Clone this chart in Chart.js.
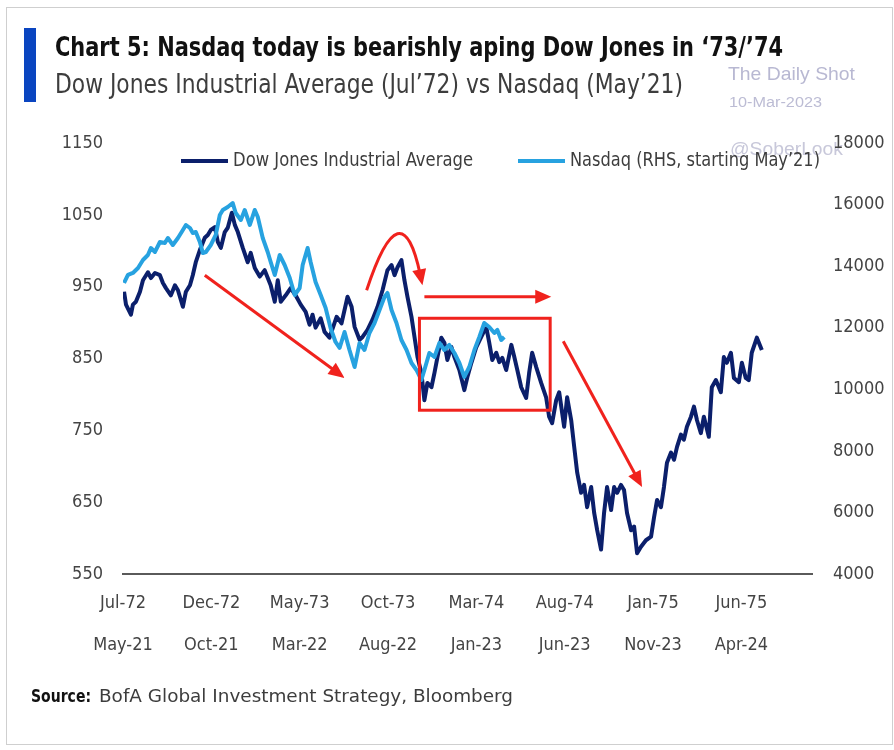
<!DOCTYPE html>
<html>
<head>
<meta charset="utf-8">
<script src="https://cdn.jsdelivr.net/npm/chart.js@4.4.1/dist/chart.umd.min.js"></script>
<style>
  html, body { margin: 0; padding: 0; background: #ffffff; }
  #c { display: block; }
</style>
</head>
<body>
<canvas id="c" width="894" height="750"></canvas>
<script>
// ---------------- DATA ----------------
// x = months elapsed since Jul-72 (Dow) / May-21 (Nasdaq)
const dowMonths = [0.06,0.17,0.45,0.56,0.73,0.96,1.13,1.41,1.58,1.81,
  2.09,2.26,2.43,2.71,2.94,3.11,3.39,3.56,3.79,3.95,
  4.12,4.35,4.63,4.80,4.97,5.20,5.37,5.54,5.76,5.93,
  6.16,6.33,6.50,6.78,7.06,7.23,7.46,7.74,8.02,8.36,
  8.59,8.76,8.93,9.21,9.49,9.77,10.06,10.34,10.56,10.73,
  10.90,11.19,11.41,11.69,12.09,12.37,12.71,12.94,13.11,13.39,
  13.56,13.84,14.12,14.41,14.69,14.97,15.20,15.37,15.54,15.76,
  15.93,16.10,16.33,16.50,16.67,16.89,17.06,17.23,17.46,17.63,
  17.80,18.02,18.19,18.36,18.59,18.76,19.04,19.32,19.49,19.72,
  20.00,20.28,20.56,20.73,20.90,21.13,21.30,21.47,21.69,21.98,
  22.15,22.32,22.54,22.82,22.99,23.16,23.39,23.67,23.95,24.12,
  24.29,24.52,24.69,24.86,24.97,25.14,25.37,25.54,25.71,25.93,
  26.10,26.27,26.50,26.67,26.84,27.06,27.23,27.40,27.63,27.80,
  27.97,28.19,28.36,28.53,28.76,28.93,29.10,29.32,29.60,29.89,
  30.06,30.23,30.45,30.62,30.79,31.02,31.19,31.36,31.58,31.75,
  31.92,32.15,32.32,32.49,32.71,32.88,33.16,33.33,33.56,33.84,
  34.01,34.18,34.41,34.58,34.86,35.03,35.25,35.42,35.59,35.88,
  36.16];
const dowValues = [943,925,911,925,929,943,959,970,962,969,
  966,955,948,938,952,945,922,943,952,966,
  984,1001,1018,1022,1029,1033,1012,1004,1026,1032,
  1053,1036,1026,1004,984,997,976,964,973,952,
  929,959,929,938,948,938,925,915,897,911,
  893,906,887,879,908,899,936,922,894,876,
  880,890,904,922,945,973,980,966,977,987,
  959,936,908,880,852,830,792,816,810,830,
  852,879,872,848,866,852,834,806,824,844,
  866,880,894,872,848,858,845,851,834,869,
  852,834,810,795,830,858,838,816,796,769,
  760,792,803,774,755,796,764,727,691,663,
  674,643,671,635,611,584,635,671,639,671,
  663,674,667,635,611,616,579,588,597,602,
  629,653,643,671,705,719,709,727,744,737,
  755,769,783,764,746,769,741,810,820,803,
  852,844,858,823,817,844,823,820,858,879,
  862];
const nasdaqMonths = [0.06,0.28,0.56,0.85,1.13,1.41,1.58,1.81,2.09,2.37,
  2.54,2.82,3.11,3.39,3.56,3.79,3.95,4.12,4.35,4.52,
  4.69,4.97,5.25,5.48,5.65,5.93,6.21,6.38,6.67,6.89,
  7.18,7.46,7.63,7.91,8.19,8.36,8.59,8.87,9.15,9.44,
  9.72,10.00,10.17,10.45,10.62,10.90,11.19,11.47,11.75,12.03,
  12.26,12.54,12.82,13.11,13.39,13.67,13.95,14.24,14.52,14.80,
  14.97,15.20,15.48,15.76,16.05,16.33,16.61,16.89,17.06,17.34,
  17.63,17.91,18.19,18.47,18.76,19.04,19.32,19.60,19.89,20.17,
  20.45,20.73,21.02,21.19,21.41,21.58];
const nasdaqValues = [13453,13713,13778,13940,14200,14362,14590,14460,14784,14752,
  14914,14687,14914,15174,15337,15239,15077,15109,14784,14427,
  14460,14687,15012,15661,15824,15921,16051,15726,15499,15824,
  15337,15824,15596,14914,14460,14135,13713,14362,14037,13615,
  13063,13290,14037,14590,14135,13485,13063,12641,11991,11536,
  11342,11861,11277,10724,11504,11277,11829,12154,12576,12998,
  13128,12576,12154,11601,11277,10854,10627,10302,10627,11179,
  11049,11504,11277,11439,11179,10854,10400,10724,11277,11699,
  12154,12024,11829,11926,11601,11699];

const dowTickLabels = ['Jul-72','Dec-72','May-73','Oct-73','Mar-74','Aug-74','Jan-75','Jun-75'];
const nasdaqTickLabels = ['May-21','Oct-21','Mar-22','Aug-22','Jan-23','Jun-23','Nov-23','Apr-24'];
const seriesNames = ['Dow Jones Industrial Average', 'Nasdaq (RHS, starting May\u201921)'];

// red annotations, in data units [month, Dow value]
const straightArrows = [
  [[4.63, 966], [12.54, 823]],
  [[17.06, 936], [24.24, 936]],
  [[24.92, 874], [29.38, 671]]
];
const curvedArrow = [[13.79, 945], [15.76, 1092], [16.95, 952]];
const boxRange = [[16.78, 906], [24.18, 778]];

// ---------------- STYLE ----------------
const NAVY = '#0b1f6b';
const LIGHT = '#27a2e0';
const RED = '#f0221d';
const CF = "'DejaVu Sans Condensed','Liberation Sans Narrow','DejaVu Sans',sans-serif";
const AF = "'Liberation Sans',Arial,sans-serif";

function txt(ctx, s, x, y, font, color, w) {
  ctx.save();
  ctx.font = font; ctx.fillStyle = color;
  ctx.textBaseline = 'middle'; ctx.textAlign = 'left';
  const mw = ctx.measureText(s).width;
  ctx.translate(x, y);
  if (w) ctx.scale(w / mw, 1);
  ctx.fillText(s, 0, 0);
  ctx.restore();
}

function arrowHead(ctx, x0, y0, x1, y1, len, half) {
  const a = Math.atan2(y1 - y0, x1 - x0);
  ctx.beginPath();
  ctx.moveTo(x1, y1);
  ctx.lineTo(x1 - len * Math.cos(a) + half * Math.sin(a), y1 - len * Math.sin(a) - half * Math.cos(a));
  ctx.lineTo(x1 - len * Math.cos(a) - half * Math.sin(a), y1 - len * Math.sin(a) + half * Math.cos(a));
  ctx.closePath();
  ctx.fill();
}

const decor = {
  id: 'decor',
  beforeDraw(chart) {
    const ctx = chart.ctx;
    ctx.save();
    ctx.fillStyle = '#fff';
    ctx.fillRect(0, 0, chart.width, chart.height);
    // frame
    ctx.strokeStyle = '#cfcfcf'; ctx.lineWidth = 1;
    ctx.strokeRect(6.5, 7.5, 886, 737);
    // blue bar
    ctx.fillStyle = '#0a45c0';
    ctx.fillRect(24, 28, 12, 74);
    ctx.restore();
    txt(ctx, 'Chart 5: Nasdaq today is bearishly aping Dow Jones in \u201873/\u201974', 55, 49, "bold 26px " + CF, '#111111', 728);
    txt(ctx, 'Dow Jones Industrial Average (Jul\u201972) vs Nasdaq (May\u201921)', 55, 86, "26px " + CF, '#3d3d3d', 628);
    // watermark
    txt(ctx, 'The Daily Shot', 728, 75, "19px " + AF, '#b8b8d2', 127);
    txt(ctx, '10-Mar-2023', 729, 103, "14px " + AF, '#bcbcd4', 93);
    txt(ctx, '@SoberLook', 730, 150, "18px " + AF, '#c8c8da', 113);
    // source
    txt(ctx, 'Source:', 31, 697, "bold 18px " + CF, '#111111', 60);
    txt(ctx, 'BofA Global Investment Strategy, Bloomberg', 99, 697, "18px " + CF, '#3d3d3d', 414);
  },
  afterDatasetsDraw(chart) {
    const ctx = chart.ctx;
    const xs = chart.scales.x, ys = chart.scales.y;
    const P = (p) => [xs.getPixelForValue(p[0]), ys.getPixelForValue(p[1])];
    ctx.save();
    ctx.strokeStyle = RED; ctx.fillStyle = RED; ctx.lineWidth = 3; ctx.lineCap = 'butt';
    // box
    const b0 = P(boxRange[0]), b1 = P(boxRange[1]);
    ctx.strokeRect(b0[0], b0[1], b1[0] - b0[0], b1[1] - b0[1]);
    // straight arrows
    straightArrows.forEach(a => {
      const p0 = P(a[0]), p1 = P(a[1]);
      const ang = Math.atan2(p1[1] - p0[1], p1[0] - p0[0]);
      ctx.beginPath();
      ctx.moveTo(p0[0], p0[1]);
      ctx.lineTo(p1[0] - 12 * Math.cos(ang), p1[1] - 12 * Math.sin(ang));
      ctx.stroke();
      arrowHead(ctx, p0[0], p0[1], p1[0], p1[1], 16, 7);
    });
    // curved arrow
    const c0 = P(curvedArrow[0]), c1 = P(curvedArrow[1]), c2 = P(curvedArrow[2]);
    const ang = Math.atan2(c2[1] - c1[1], c2[0] - c1[0]);
    ctx.beginPath();
    ctx.moveTo(c0[0], c0[1]);
    ctx.quadraticCurveTo(c1[0], c1[1], c2[0] - 10 * Math.cos(ang), c2[1] - 10 * Math.sin(ang));
    ctx.stroke();
    arrowHead(ctx, c1[0], c1[1], c2[0], c2[1], 16, 7);
    ctx.restore();
  },
  afterDraw(chart) {
    const ctx = chart.ctx;
    // legend
    const items = [
      {x: 181, color: NAVY, label: seriesNames[0], w: 240},
      {x: 518, color: LIGHT, label: seriesNames[1], w: 250}
    ];
    items.forEach(it => {
      ctx.save();
      ctx.strokeStyle = it.color; ctx.lineWidth = 4;
      ctx.beginPath(); ctx.moveTo(it.x, 161); ctx.lineTo(it.x + 47, 161); ctx.stroke();
      ctx.restore();
      txt(ctx, it.label, it.x + 52, 161, "19px " + CF, '#3d3d3d', it.w);
    });
  }
};

const dowData = dowMonths.map((m, i) => ({x: m, y: dowValues[i]}));
const nasdaqData = nasdaqMonths.map((m, i) => ({x: m, y: nasdaqValues[i]}));

const tickFont = {family: CF, size: 18};

new Chart(document.getElementById('c'), {
  type: 'line',
  data: {
    datasets: [
      {label: seriesNames[0], data: dowData, yAxisID: 'y', borderColor: NAVY, borderWidth: 4,
       pointRadius: 0, tension: 0, order: 1, borderJoinStyle: 'round'},
      {label: seriesNames[1], data: nasdaqData, yAxisID: 'y1', borderColor: LIGHT, borderWidth: 4,
       pointRadius: 0, tension: 0, order: 0, borderJoinStyle: 'round'}
    ]
  },
  options: {
    responsive: false,
    animation: false,
    devicePixelRatio: 1,
    layout: {padding: {top: 143, left: 0, right: 0, bottom: 0}},
    plugins: {legend: {display: false}, tooltip: {enabled: false}},
    scales: {
      x: {
        type: 'linear', min: 0, max: 39, position: 'bottom',
        grid: {display: false, drawTicks: false},
        border: {display: true, color: '#5a5a5a', width: 2},
        ticks: {
          stepSize: 5, includeBounds: false, autoSkip: false, maxRotation: 0, padding: 8,
          color: '#444444', font: {family: CF, size: 18, lineHeight: 2.33},
          callback: (v) => {
            const i = Math.round(v / 5);
            return [dowTickLabels[i], nasdaqTickLabels[i]];
          }
        },
        afterFit: (s) => { s.height = 176; }
      },
      y: {
        position: 'left', min: 550, max: 1150,
        grid: {display: false, drawTicks: false},
        border: {display: false},
        ticks: {stepSize: 100, padding: 20, color: '#444444', font: tickFont, callback: (v) => String(v)},
        afterFit: (s) => { s.width = 123; }
      },
      y1: {
        position: 'right', min: 4000, max: 18000,
        grid: {display: false, drawTicks: false},
        border: {display: false},
        ticks: {stepSize: 2000, padding: 21, color: '#444444', font: tickFont, callback: (v) => String(v)},
        afterFit: (s) => { s.width = 82; }
      }
    }
  },
  plugins: [decor]
});
</script>
</body>
</html>
